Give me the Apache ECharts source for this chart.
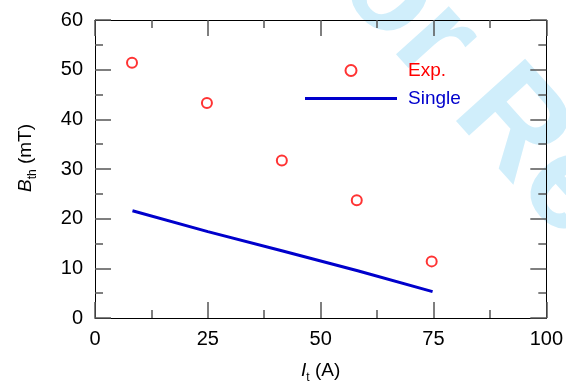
<!DOCTYPE html>
<html>
<head>
<meta charset="utf-8">
<script src="https://cdn.jsdelivr.net/npm/echarts@6/dist/echarts.min.js"></script>
<style>
html,body{margin:0;padding:0;background:#fff;}
#chart{width:566px;height:389px;}
</style>
</head>
<body>
<div id="chart"></div>
<script>
// ---- data ----
var expCurrent = [8.2, 24.8, 41.4, 58.0, 74.6];
var expField = [51.4, 43.3, 31.7, 23.7, 11.4];
var singleCurrent = [8.3, 25.0, 41.6, 58.2, 74.8];
var singleField = [21.6, 17.4, 13.5, 9.5, 5.3];
var xTicks = [0, 25, 50, 75, 100];
var yTicks = [0, 10, 20, 30, 40, 50, 60];
var seriesNames = ['Exp.', 'Single'];

function pairs(xs, ys) { return xs.map(function (x, i) { return [x, ys[i]]; }); }

var FONT = '"Liberation Sans", Arial, sans-serif';
var tickColor = '#555';

function xAx(pos, showLabel) {
  return {
    type: 'value', position: pos, min: xTicks[0], max: xTicks[xTicks.length - 1], interval: 25,
    axisLine: { show: true, onZero: false, lineStyle: { color: '#000', width: 1 } },
    axisTick: { show: true, inside: true, length: 16, lineStyle: { color: tickColor, width: 1.5 } },
    minorTick: { show: true, splitNumber: 2, length: 8, lineStyle: { color: tickColor, width: 1.5 } },
    splitLine: { show: false },
    axisLabel: { show: showLabel, fontSize: 20, color: '#000', fontFamily: FONT, margin: 11 }
  };
}
function yAx(pos, showLabel) {
  return {
    type: 'value', position: pos, min: yTicks[0], max: yTicks[yTicks.length - 1], interval: 10,
    axisLine: { show: true, onZero: false, lineStyle: { color: '#000', width: 1 } },
    axisTick: { show: true, inside: true, length: 16, lineStyle: { color: tickColor, width: 1.5 } },
    minorTick: { show: true, splitNumber: 2, length: 8, lineStyle: { color: tickColor, width: 1.5 } },
    splitLine: { show: false },
    axisLabel: { show: showLabel, fontSize: 20, color: '#000', fontFamily: FONT, margin: 12 }
  };
}

var xBottom = xAx('bottom', true);
xBottom.name = '{i|I}{s|t} (A)';
xBottom.nameLocation = 'middle';
xBottom.nameGap = 40;
xBottom.nameTextStyle = {
  fontSize: 19, color: '#000', fontFamily: FONT,
  rich: {
    i: { fontSize: 19, fontStyle: 'italic', fontFamily: FONT, color: '#000' },
    s: { fontSize: 12, fontFamily: FONT, color: '#000', padding: [14, 0, 0, 0] }
  }
};
var xTop = xAx('top', false);
var yLeft = yAx('left', true);
yLeft.name = '{i|B}{s|th} (mT)';
yLeft.nameLocation = 'middle';
yLeft.nameRotate = 90;
yLeft.nameGap = 56;
yLeft.nameTextStyle = {
  fontSize: 19, color: '#000', fontFamily: FONT, padding: [0, 0, 0, 22],
  rich: {
    i: { fontSize: 19, fontStyle: 'italic', fontFamily: FONT, color: '#000' },
    s: { fontSize: 12, fontFamily: FONT, color: '#000', padding: [14, 0, 0, 0] }
  }
};
var yRight = yAx('right', false);

var chart = echarts.init(document.getElementById('chart'), null, { renderer: 'canvas' });
chart.setOption({
  animation: false,
  backgroundColor: '#fff',
  textStyle: { fontFamily: FONT },
  graphic: [{
    type: 'text', z: -100, silent: true,
    x: 257, y: -55, rotation: -48 * Math.PI / 180,
    style: { text: 'For Review Only', fontSize: 135, fontWeight: 'bold', fontFamily: FONT,
             fill: '#d0eefb', textVerticalAlign: 'bottom', textAlign: 'left' }
  }],
  grid: { left: 95, right: 19, top: 20, bottom: 70, containLabel: false },
  legend: {
    orient: 'vertical', left: 305, top: 61, padding: 0, itemWidth: 92, itemHeight: 11, itemGap: 9,
    textStyle: { fontSize: 19, fontFamily: FONT, padding: [0, 0, 0, 6] },
    data: [
      { name: seriesNames[0], textStyle: { color: '#ff0000' } },
      { name: seriesNames[1], icon: 'path://M0 0H92V3H0Z', textStyle: { color: '#0000cc' } }
    ]
  },
  xAxis: [xBottom, xTop],
  yAxis: [yLeft, yRight],
  series: [
    {
      name: seriesNames[0], type: 'scatter', xAxisIndex: 0, yAxisIndex: 0,
      symbol: 'emptyCircle', symbolSize: 10,
      itemStyle: { color: '#ff0000', borderColor: '#ff0000', borderWidth: 1 },
      data: pairs(expCurrent, expField)
    },
    {
      name: seriesNames[1], type: 'line', xAxisIndex: 0, yAxisIndex: 0,
      symbol: 'none', smooth: false,
      lineStyle: { color: '#0000cc', width: 3 },
      itemStyle: { color: '#0000cc' },
      data: pairs(singleCurrent, singleField)
    }
  ]
});
</script>
</body>
</html>
